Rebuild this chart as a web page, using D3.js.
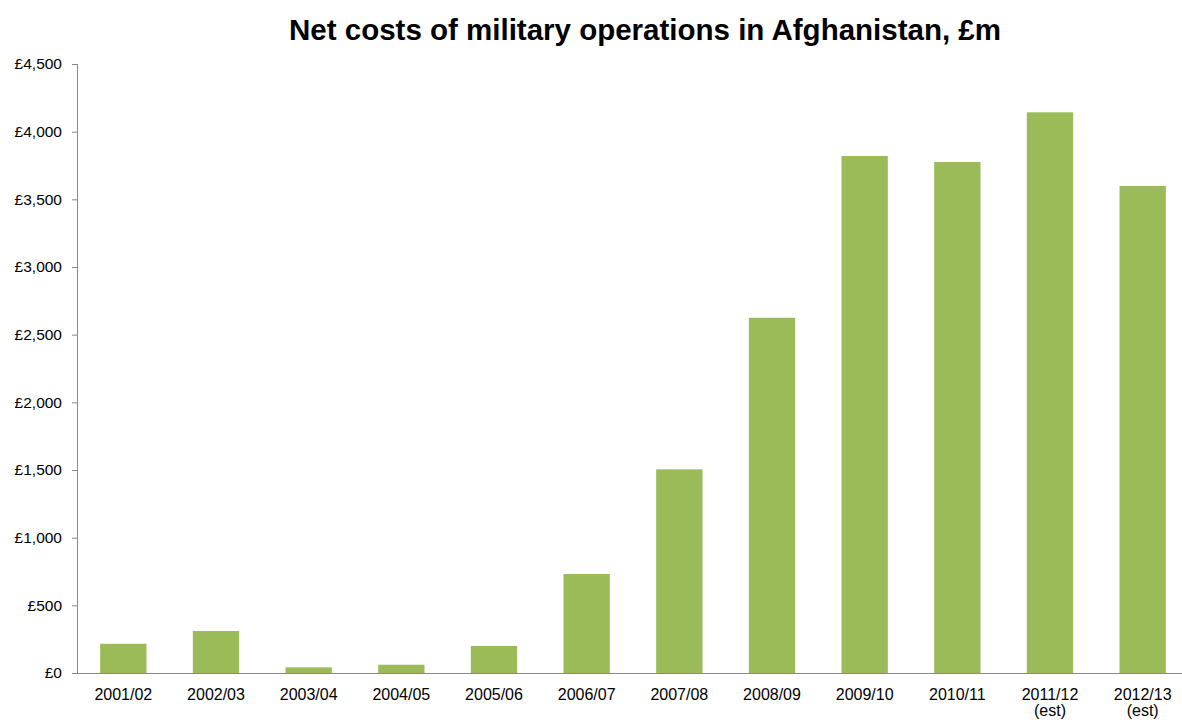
<!DOCTYPE html>
<html>
<head>
<meta charset="utf-8">
<title>Net costs of military operations in Afghanistan</title>
<script src="https://d3js.org/d3.v7.min.js"></script>
<style>
  body { margin: 0; background: #fff; }
  text { font-family: "Liberation Sans", Arial, sans-serif; fill: #000; }
</style>
</head>
<body>
<div id="chart"></div>
<script>
// data
var years = ["2001/02", "2002/03", "2003/04", "2004/05", "2005/06", "2006/07",
             "2007/08", "2008/09", "2009/10", "2010/11", "2011/12", "2012/13"]
var notes = ["", "", "", "", "", "", "", "", "", "", "(est)", "(est)"]
var costs = [216, 310, 42, 61, 200, 732, 1505, 2625, 3820, 3776, 4143, 3599]
var yTicks = [0, 500, 1000, 1500, 2000, 2500, 3000, 3500, 4000, 4500]

var width = 1182, height = 722
var margin = {top: 64, right: 0, bottom: 49, left: 77}

var svg = d3.select("#chart").append("svg")
    .attr("width", width)
    .attr("height", height)

var x = d3.scaleBand()
    .domain(years)
    .range([margin.left, 1189])
    .paddingInner(0.5)
    .paddingOuter(0.25)

var y = d3.scaleLinear()
    .domain([0, 4500])
    .range([height - margin.bottom, margin.top])

// bars
svg.append("g").selectAll("rect")
    .data(years)
    .enter().append("rect")
        .attr("x", function(d) { return x(d) })
        .attr("y", function(d, i) { return y(costs[i]) })
        .attr("width", x.bandwidth())
        .attr("height", function(d, i) { return y(0) - y(costs[i]) })
        .style("fill", "#9bbb59")

// y axis
var yAxis = svg.append("g")
    .attr("transform", "translate(" + margin.left + ",0)")
    .call(d3.axisLeft(y).tickValues(yTicks).tickSize(5).tickPadding(10)
        .tickFormat(function(d) { return "£" + d3.format(",")(d) }))
yAxis.select(".domain").attr("stroke", "#888").attr("d", "M0.5," + y(4500) + "V" + y(0))
yAxis.selectAll(".tick line").attr("stroke", "#888")
yAxis.selectAll(".tick text").style("font-size", "15.5px")

// x axis
var xAxis = svg.append("g")
    .attr("transform", "translate(0," + y(0) + ")")
    .call(d3.axisBottom(x).tickSize(0).tickPadding(16))
xAxis.select(".domain").attr("stroke", "#888").attr("d", "M" + margin.left + ",0.5H" + width)
xAxis.selectAll(".tick text").style("font-size", "16px")
xAxis.selectAll(".tick").append("text")
    .attr("y", 43)
    .attr("text-anchor", "middle")
    .style("font-size", "16px")
    .text(function(d, i) { return notes[i] })

// title
svg.append("text")
    .attr("x", 645)
    .attr("y", 40)
    .attr("text-anchor", "middle")
    .style("font-size", "29.5px")
    .style("font-weight", "bold")
    .text("Net costs of military operations in Afghanistan, £m")
</script>
</body>
</html>
